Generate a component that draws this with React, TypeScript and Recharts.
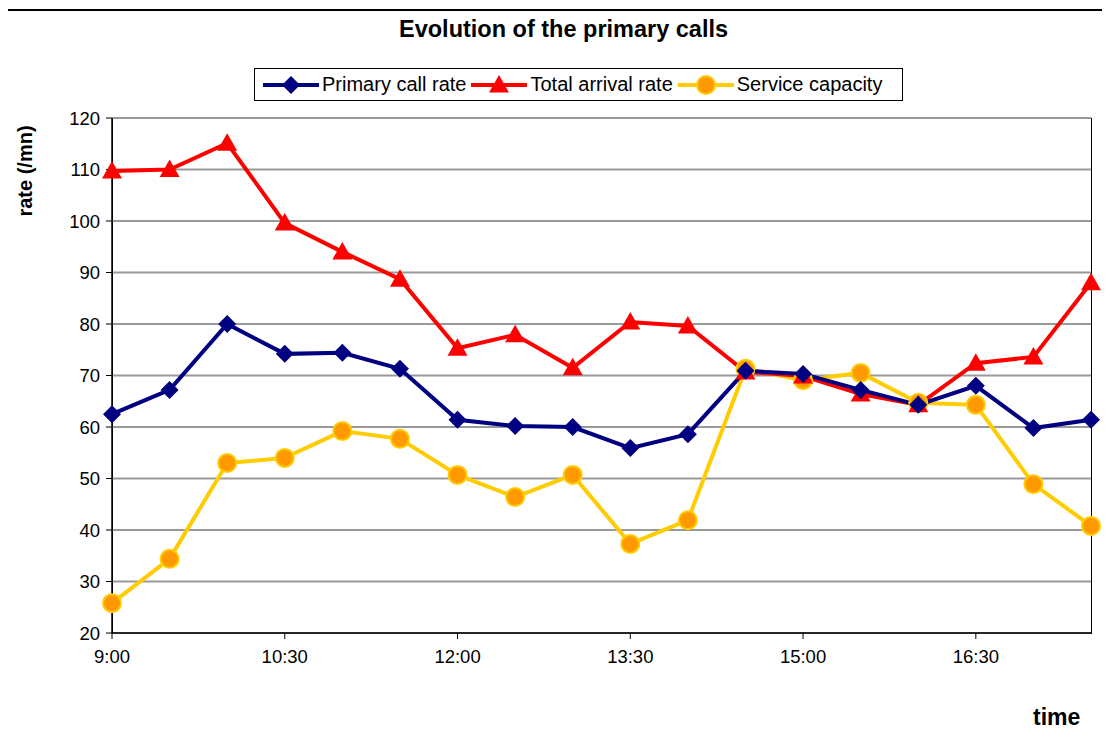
import React from 'react';
import { LineChart, Line, XAxis, YAxis, CartesianGrid } from 'recharts';

const times = [
  '9:00', '9:30', '10:00', '10:30', '11:00', '11:30', '12:00', '12:30', '13:00',
  '13:30', '14:00', '14:30', '15:00', '15:30', '16:00', '16:30', '17:00', '17:30',
];
const primaryCallRate = [62.5, 67.2, 80, 74.2, 74.4, 71.3, 61.4, 60.2, 60, 55.9, 58.6, 70.9, 70.3, 67.2, 64.3, 68, 59.8, 61.4];
const totalArrivalRate = [109.7, 110, 115.1, 99.6, 94, 88.7, 75.3, 77.9, 71.5, 80.4, 79.6, 70.7, 69.9, 66.4, 64.3, 72.4, 73.6, 88];
const serviceCapacity = [25.8, 34.4, 53, 54, 59.2, 57.7, 50.7, 46.4, 50.7, 37.3, 41.9, 71.3, 69.1, 70.5, 64.7, 64.3, 48.9, 40.8];
const yTicks = [20, 30, 40, 50, 60, 70, 80, 90, 100, 110, 120];

const data = times.map((t, i) => ({
  time: t,
  primary: primaryCallRate[i],
  total: totalArrivalRate[i],
  capacity: serviceCapacity[i],
}));

const FONT = '"Liberation Sans", Arial, sans-serif';
const NAVY = '#000080';
const RED = '#FF0000';
const YELLOW = '#FFCC00';
const ORANGE = '#FF9900';

const W = 1110;
const H = 739;
const YAXIS_W = 60;
const XAXIS_H = 40;
// plot area: x 112..1091, y 118..633
const M = { top: 118, right: 19, bottom: 106 - XAXIS_H, left: 112 - YAXIS_W };

const Diamond = (p: any) => {
  const { cx, cy } = p;
  if (cx == null || cy == null) return null;
  const s = 9;
  return <path d={`M${cx},${cy - s} L${cx + s},${cy} L${cx},${cy + s} L${cx - s},${cy} Z`} fill={NAVY} />;
};

const Triangle = (p: any) => {
  const { cx, cy } = p;
  if (cx == null || cy == null) return null;
  const s = 10;
  return <path d={`M${cx},${cy - s} L${cx + s},${cy + s * 0.75} L${cx - s},${cy + s * 0.75} Z`} fill={RED} />;
};

const Circle = (p: any) => {
  const { cx, cy } = p;
  if (cx == null || cy == null) return null;
  return <circle cx={cx} cy={cy} r={9} fill={ORANGE} stroke={YELLOW} strokeWidth={2} />;
};

const legendItems = [
  { label: 'Primary call rate', color: NAVY, Mark: Diamond },
  { label: 'Total arrival rate', color: RED, Mark: Triangle },
  { label: 'Service capacity', color: YELLOW, Mark: Circle },
];

export default function App() {
  return (
    <div style={{ position: 'relative', width: W, height: H, margin: -8, background: '#fff', overflow: 'hidden', fontFamily: FONT }}>
      {/* outer chart frame, cut by the picture edges */}
      <div style={{ position: 'absolute', left: 5, top: 9, width: W, height: 2, background: '#000' }} />
      <div style={{ position: 'absolute', left: 5, top: 9, width: 3, height: H, background: '#000', zIndex: 5 }} />
      {/* plot frame */}
      <div style={{ position: 'absolute', left: 112, top: M.top, width: W - 112 - M.right + 1, height: H - M.top - 106 + 1, border: '1px solid #000', boxSizing: 'border-box' }} />
      <div style={{ position: 'absolute', left: 399, top: 16, fontSize: 23.5, fontWeight: 'bold', whiteSpace: 'nowrap' }}>
        Evolution of the primary calls
      </div>
      <div style={{ position: 'absolute', left: 254, top: 68, width: 649, height: 33, border: '1px solid #000', boxSizing: 'border-box', display: 'flex', alignItems: 'center', paddingLeft: 7, fontSize: 20 }}>
        {legendItems.map(({ label, color, Mark }) => (
          <span key={label} style={{ display: 'flex', alignItems: 'center', marginRight: 4 }}>
            <svg width={58} height={24}>
              <line x1={1} y1={12} x2={57} y2={12} stroke={color} strokeWidth={4} />
              <Mark cx={29} cy={12} />
            </svg>
            <span style={{ marginLeft: 2 }}>{label}</span>
          </span>
        ))}
      </div>
      <div style={{ position: 'absolute', left: 25, top: 171, transform: 'translate(-50%, -50%) rotate(-90deg)', fontSize: 20, fontWeight: 'bold', whiteSpace: 'nowrap' }}>
        rate (/mn)
      </div>
      <div style={{ position: 'absolute', left: 1033, top: 704, fontSize: 23, fontWeight: 'bold' }}>time</div>
      <div style={{ position: 'absolute', left: 0, top: 0 }}>
        <LineChart width={W} height={H} data={data} margin={M}>
          <CartesianGrid horizontal vertical={false} stroke="#999" strokeWidth={2} />
          <XAxis
            dataKey="time"
            interval={2}
            height={XAXIS_H}
            tickLine={{ stroke: '#000' }}
            tickSize={6}
            axisLine={{ stroke: '#000', strokeWidth: 1.5 }}
            tick={{ fill: '#000', fontSize: 18.5, fontFamily: FONT, dy: 9 }}
          />
          <YAxis
            domain={[20, 120]}
            ticks={yTicks}
            interval={0}
            width={YAXIS_W}
            tickLine={{ stroke: '#000' }}
            tickSize={6}
            axisLine={{ stroke: '#000', strokeWidth: 1.5 }}
            tick={{ fill: '#000', fontSize: 18.5, fontFamily: FONT, dx: -4 }}
          />
          <Line dataKey="capacity" stroke={YELLOW} strokeWidth={4} dot={<Circle />} isAnimationActive={false} />
          <Line dataKey="total" stroke={RED} strokeWidth={4} dot={<Triangle />} isAnimationActive={false} />
          <Line dataKey="primary" stroke={NAVY} strokeWidth={4} dot={<Diamond />} isAnimationActive={false} />
        </LineChart>
      </div>
    </div>
  );
}
